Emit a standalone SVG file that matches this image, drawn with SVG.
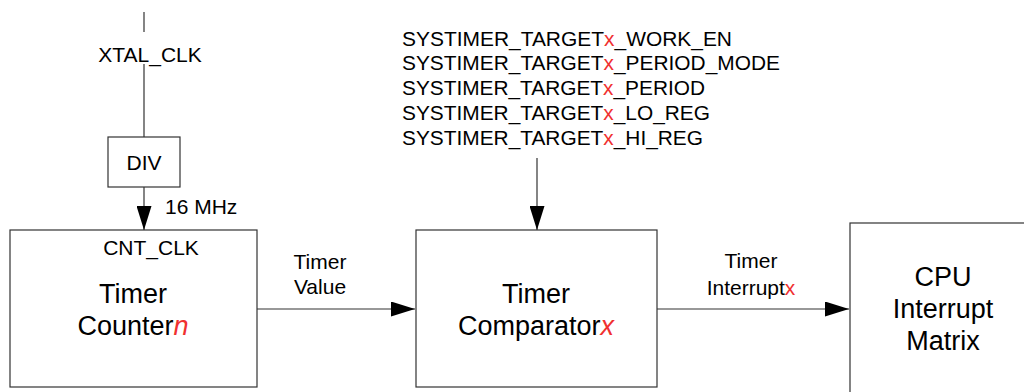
<svg xmlns="http://www.w3.org/2000/svg" width="1024" height="392" viewBox="0 0 1024 392">
<style>
text{font-family:"Liberation Sans",Arial,sans-serif;fill:#000}
.box{fill:#fff;stroke:#333;stroke-width:1.2}
.ln{stroke:#333;stroke-width:1.2;fill:none}
.s{font-size:21px}
.r{font-size:20px}
.b{font-size:27px}
.red{fill:#f03030}
</style>
<defs>
<marker id="ah" markerWidth="24" markerHeight="15" viewBox="0 0 24 15" refX="24" refY="7.5" orient="auto" markerUnits="userSpaceOnUse">
<path d="M0,0 L24,7.5 L0,15 Z" fill="#000"/>
</marker>
</defs>
<g id="connectors">
<line class="ln" x1="144" y1="12" x2="144" y2="32"/>
<line class="ln" x1="144" y1="64" x2="144" y2="137"/>
<line class="ln" x1="144" y1="187" x2="144" y2="230" marker-end="url(#ah)"/>
<line class="ln" x1="537" y1="158" x2="537" y2="230" marker-end="url(#ah)"/>
<line class="ln" x1="257" y1="309" x2="415" y2="309" marker-end="url(#ah)"/>
<line class="ln" x1="657" y1="309" x2="849" y2="309" marker-end="url(#ah)"/>
<text class="s" x="150" y="62" text-anchor="middle">XTAL_CLK</text>
<text class="s" x="165" y="214">16 MHz</text>
<text class="s" x="320" y="269" text-anchor="middle">Timer</text>
<text class="s" x="320" y="294" text-anchor="middle">Value</text>
<text class="s" x="751" y="268" text-anchor="middle">Timer</text>
<text class="s" x="751" y="295" text-anchor="middle">Interrupt<tspan class="red">x</tspan></text>
</g>
<g id="registers">
<text class="r" x="402" y="46" textLength="330" lengthAdjust="spacingAndGlyphs">SYSTIMER_TARGET<tspan class="red">x</tspan>_WORK_EN</text>
<text class="r" x="402" y="70" textLength="378" lengthAdjust="spacingAndGlyphs">SYSTIMER_TARGET<tspan class="red">x</tspan>_PERIOD_MODE</text>
<text class="r" x="402" y="95" textLength="303" lengthAdjust="spacingAndGlyphs">SYSTIMER_TARGET<tspan class="red">x</tspan>_PERIOD</text>
<text class="r" x="402" y="120" textLength="308" lengthAdjust="spacingAndGlyphs">SYSTIMER_TARGET<tspan class="red">x</tspan>_LO_REG</text>
<text class="r" x="402" y="145" textLength="301" lengthAdjust="spacingAndGlyphs">SYSTIMER_TARGET<tspan class="red">x</tspan>_HI_REG</text>
</g>
<g id="div">
<rect class="box" x="108" y="137" width="72" height="50"/>
<text class="s" x="144" y="170" text-anchor="middle">DIV</text>
</g>
<g id="counter">
<rect class="box" x="10" y="230" width="247" height="157"/>
<text class="s" x="151" y="255" text-anchor="middle">CNT_CLK</text>
<text class="b" x="133" y="303" text-anchor="middle">Timer</text>
<text class="b" x="133" y="335" text-anchor="middle">Counter<tspan class="red" font-style="italic">n</tspan></text>
</g>
<g id="comparator">
<rect class="box" x="416" y="230" width="241" height="157"/>
<text class="b" x="536" y="303" text-anchor="middle">Timer</text>
<text class="b" x="536" y="335" text-anchor="middle">Comparator<tspan class="red" font-style="italic">x</tspan></text>
</g>
<g id="cpu">
<rect class="box" x="850" y="223" width="200" height="200"/>
<text class="b" x="943" y="286" text-anchor="middle">CPU</text>
<text class="b" x="943" y="318" text-anchor="middle">Interrupt</text>
<text class="b" x="943" y="350" text-anchor="middle">Matrix</text>
</g>
</svg>
